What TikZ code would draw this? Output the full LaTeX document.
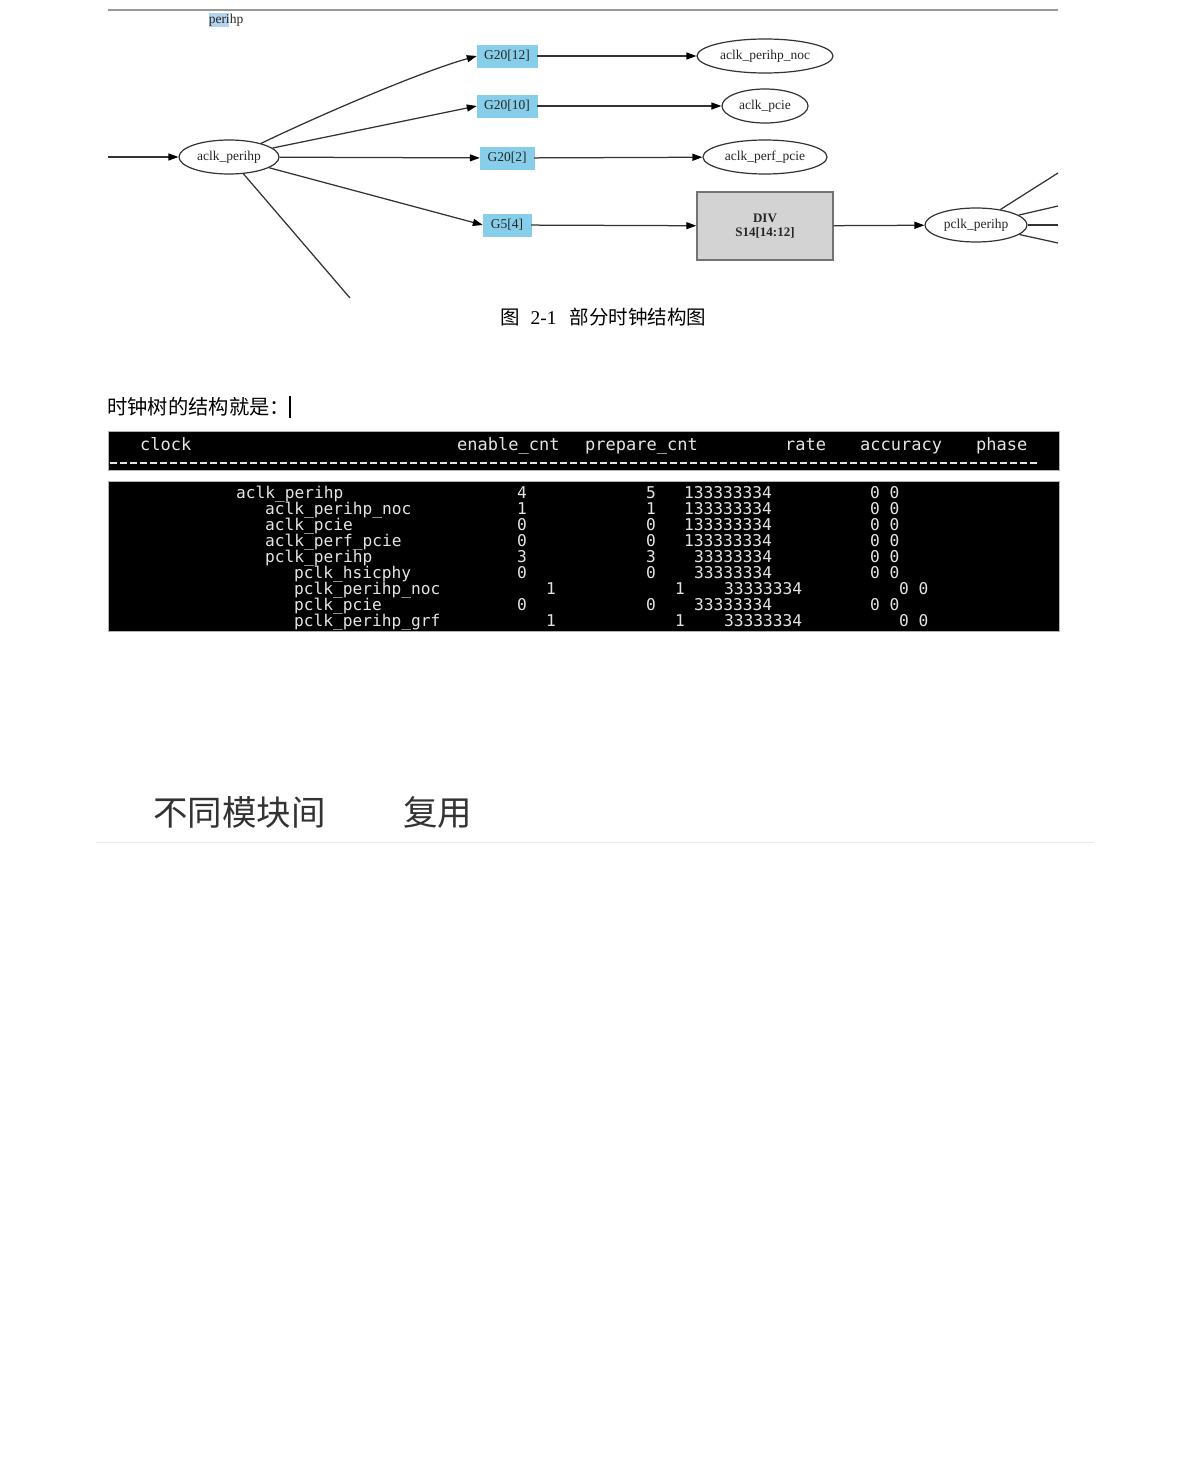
\documentclass[tikz,border=0pt]{standalone}
\usepackage{fontspec}
\setmainfont{Liberation Serif}
\newfontfamily\cjk{Noto Sans CJK SC}
\newfontfamily\termfont{DejaVu Sans Mono}
\usetikzlibrary{shapes.geometric,arrows.meta}
\definecolor{skyb}{HTML}{87CEEB}
\definecolor{divgray}{HTML}{D3D3D3}
\definecolor{edgec}{HTML}{333333}
\definecolor{hilite}{HTML}{B3D4EE}
\definecolor{termtext}{HTML}{E4E4E4}
\definecolor{bodytext}{HTML}{333333}
\definecolor{ruleg}{HTML}{EBEBEB}
\tikzset{
 gv/.style={font=\fontsize{13.5}{15}\selectfont, text=black!85},
 gatebox/.style={gv, rectangle, fill=skyb, draw=skyb, minimum height=22pt, inner sep=0pt},
 clkell/.style={gv, ellipse, draw=edgec, line width=1.2pt, minimum height=34pt, inner sep=0pt},
 divbox/.style={rectangle, fill=divgray, draw=gray!90!black, line width=1.4pt, minimum width=136pt, minimum height=68pt, align=center, text=black!85, font=\fontsize{13}{15}\selectfont\bfseries},
 clkedge/.style={draw=edgec, line width=1.25pt, -{Triangle[length=10pt,width=7pt,color=black]}},
 cutline/.style={draw=edgec, line width=1.25pt},
 termcell/.style={text=termtext, font=\termfont\fontsize{16.2}{16}\selectfont, anchor=base west, inner sep=0pt},
 termhead/.style={termcell, font=\termfont\fontsize{17}{16}\selectfont},
 termbox/.style={fill=black, draw=gray!60, line width=1pt},
}
\begin{document}
\begin{tikzpicture}[x=1pt,y=-1pt]
\useasboundingbox[fill=white] (0,0) rectangle (1190,1458);
% top rule
\draw[gray!80, line width=2pt] (108,10) -- (1058,10);
\fill[hilite] (209,13) rectangle (229,27);
\node[gv, inner sep=0pt] (lbl) at (226,20) {perihp};

% graph nodes
\node[clkell, minimum width=100pt] (ap) at (229,157) {aclk\_perihp};
\node[gatebox, minimum width=60pt] (g12) at (507,56) {G20[12]};
\node[gatebox, minimum width=60pt] (g10) at (507,106) {G20[10]};
\node[gatebox, minimum width=54pt] (g2) at (507,158) {G20[2]};
\node[gatebox, minimum width=48pt] (g5) at (507,225) {G5[4]};
\node[clkell, minimum width=136pt] (noc) at (765,56) {aclk\_perihp\_noc};
\node[clkell, minimum width=86pt] (pcie) at (765,106) {aclk\_pcie};
\node[clkell, minimum width=124pt] (perf) at (765,157) {aclk\_perf\_pcie};
\node[divbox] (div) at (765,226) {DIV\\[-1pt]S14[14:12]};
\node[clkell, minimum width=102pt] (pclk) at (976,225) {pclk\_perihp};

% connectors
\coordinate (in1) at (108,157);
\draw[clkedge] (in1) -- (ap);
\draw[clkedge] (ap.23) .. controls (320,115) and (420,72) .. (g12.west);
\draw[clkedge] (ap) -- (g10.west);
\draw[clkedge] (ap) -- (g2);
\draw[clkedge] (ap) -- (g5.west);
\coordinate (cut1) at (350,298);
\draw[cutline] (ap) -- (cut1);
\draw[clkedge] (g12) -- (noc);
\draw[clkedge] (g10) -- (pcie);
\draw[clkedge] (g2) -- (perf);
\draw[clkedge] (g5) -- (div);
\draw[clkedge] (div) -- (pclk);
\coordinate (o1) at (1058,173);
\coordinate (o2) at (1058,206);
\coordinate (o3) at (1058,225);
\coordinate (o4) at (1058,243);
\draw[cutline] (pclk) -- (o1);
\draw[cutline] (pclk) -- (o2);
\draw[cutline] (pclk) -- (o3);
\draw[cutline] (pclk) -- (o4);

% caption
\node[anchor=west, inner sep=0pt, text=black] (cap) at (500,317)
  {\cjk\fontsize{19.5}{20}\selectfont 图\hspace{11pt}{\rmfamily 2-1}\hspace{13pt}部分时钟结构图};

% intro line
\node[anchor=west, inner sep=0pt, text=black] (intro) at (107,407)
  {\cjk\fontsize{20.3}{21}\selectfont 时钟树的结构就是：};
\draw[black, line width=2.6pt] (290,396) -- (290,418);

% terminal boxes
\draw[termbox] (108,431) rectangle (1059,470);
\draw[termbox] (108,481) rectangle (1059,631);
\node[termhead] (hclock) at (140,450) {clock};
\node[termhead] (hen) at (457,450) {enable\_cnt};
\node[termhead] (hpr) at (585,450) {prepare\_cnt};
\node[termhead] (hrate) at (785,450) {rate};
\node[termhead] (hacc) at (860,450) {accuracy};
\node[termhead] (hph) at (976,450) {phase};
\draw[termtext, line width=1.6pt, dash pattern=on 7pt off 3pt] (110,463) -- (1040,463);

\foreach \nm/\nx/\en/\pr/\rv/\rx/\o [count=\i] in {
  aclk\_perihp/236/4/5/133333334/684/0,
  aclk\_perihp\_noc/265/1/1/133333334/684/0,
  aclk\_pcie/265/0/0/133333334/684/0,
  aclk\_perf\_pcie/265/0/0/133333334/684/0,
  pclk\_perihp/265/3/3/33333334/694/0,
  pclk\_hsicphy/294/0/0/33333334/694/0,
  pclk\_perihp\_noc/294/1/1/33333334/724/29,
  pclk\_pcie/294/0/0/33333334/694/0,
  pclk\_perihp\_grf/294/1/1/33333334/724/29}
{
  \node[termcell] (n\i) at (\nx,{482+16*\i}) {\nm};
  \node[termcell] (e\i) at ({517+\o},{482+16*\i}) {\en};
  \node[termcell] (p\i) at ({646+\o},{482+16*\i}) {\pr};
  \node[termcell] (r\i) at (\rx,{482+16*\i}) {\rv};
  \node[termcell] (a\i) at ({870+\o},{482+16*\i}) {0 0};
}

% bottom heading
\node[anchor=west, inner sep=0pt, text=bodytext] (h1) at (153,812)
  {\cjk\fontsize{34.5}{34}\selectfont 不同模块间};
\node[anchor=west, inner sep=0pt, text=bodytext] (h2) at (403,812)
  {\cjk\fontsize{34.5}{34}\selectfont 复用};
\draw[ruleg, line width=1pt] (96,842) -- (1094,842);
\end{tikzpicture}
\end{document}
